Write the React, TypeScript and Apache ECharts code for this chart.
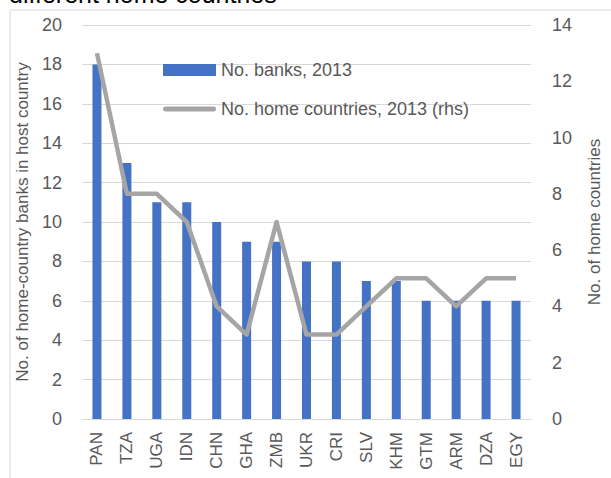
import React, { useEffect, useRef } from "react";
import * as echarts from "echarts";

const categories = ["PAN", "TZA", "UGA", "IDN", "CHN", "GHA", "ZMB", "UKR", "CRI", "SLV", "KHM", "GTM", "ARM", "DZA", "EGY"];
const banks2013 = [18, 13, 11, 11, 10, 9, 9, 8, 8, 7, 7, 6, 6, 6, 6];
const homeCountries2013 = [13, 8, 8, 7, 4, 3, 7, 3, 3, 4, 5, 5, 4, 5, 5];
const leftAxisName = "No. of home-country banks in host country";
const rightAxisName = "No. of home countries";
const titleText = "different home countries";
const barName = "No. banks, 2013";
const lineName = "No. home countries, 2013 (rhs)";

const FONT = "'Liberation Sans', Arial, sans-serif";
const TXT = "#595959";

export default function App() {
  const ref = useRef<HTMLDivElement>(null);
  useEffect(() => {
    const chart = echarts.init(ref.current!, null, { renderer: "svg" });
    chart.setOption({
      animation: false,
      textStyle: { fontFamily: FONT },
      graphic: [
        {
          type: "rect",
          shape: { x: 10, y: 10, width: 800, height: 700 },
          style: { fill: "none", stroke: "#D9D9D9", lineWidth: 1 },
          silent: true,
        },
        {
          type: "text",
          x: 9,
          y: 6,
          style: {
            text: titleText,
            fontFamily: FONT,
            fontSize: 25,
            fill: "#000000",
            verticalAlign: "bottom",
            align: "left",
          },
        },
      ],
      legend: {
        orient: "vertical",
        left: 158,
        top: 56,
        itemWidth: 53,
        itemHeight: 12,
        itemGap: 21,
        textStyle: { fontSize: 18, color: TXT, fontFamily: FONT },
        data: [
          { name: barName, icon: "rect" },
          { name: lineName, icon: "path://M2.5,0 L50.5,0 A2.5,2.5 0 0 1 50.5,5 L2.5,5 A2.5,2.5 0 0 1 2.5,0 Z" },
        ],
      },
      grid: { left: 82, right: 64, top: 25, bottom: 59, containLabel: false },
      xAxis: {
        type: "category",
        data: categories,
        axisLine: { show: true, lineStyle: { color: "#D9D9D9", width: 1 } },
        axisTick: { show: false },
        axisLabel: { rotate: 90, margin: 13, fontSize: 17, color: TXT, fontFamily: FONT },
      },
      yAxis: [
        {
          type: "value",
          min: 0,
          max: 20,
          interval: 2,
          name: leftAxisName,
          nameLocation: "middle",
          nameGap: 43,
          nameTextStyle: { fontSize: 17, color: TXT, fontFamily: FONT },
          axisLine: { show: false },
          axisTick: { show: false },
          axisLabel: { margin: 20, fontSize: 18, color: TXT, fontFamily: FONT },
          splitLine: { lineStyle: { color: "#D9D9D9", width: 1 } },
        },
        {
          type: "value",
          min: 0,
          max: 14,
          interval: 2,
          position: "right",
          name: rightAxisName,
          nameLocation: "middle",
          nameGap: 55,
          nameTextStyle: { fontSize: 17, color: TXT, fontFamily: FONT },
          axisLine: { show: false },
          axisTick: { show: false },
          axisLabel: { margin: 21, fontSize: 18, color: TXT, fontFamily: FONT },
          splitLine: { show: false },
        },
      ],
      series: [
        {
          name: barName,
          type: "bar",
          data: banks2013,
          barWidth: 9,
          itemStyle: { color: "#4472C4" },
        },
        {
          name: lineName,
          type: "line",
          yAxisIndex: 1,
          data: homeCountries2013,
          symbol: "none",
          showSymbol: false,
          lineStyle: { color: "#A5A5A5", width: 4.5, join: "round" },
          itemStyle: { color: "#A5A5A5" },
        },
      ],
    });
    return () => chart.dispose();
  }, []);
  return (
    <div
      ref={ref}
      style={{ position: "absolute", left: 0, top: 0, width: 611, height: 478, background: "#fff" }}
    />
  );
}
